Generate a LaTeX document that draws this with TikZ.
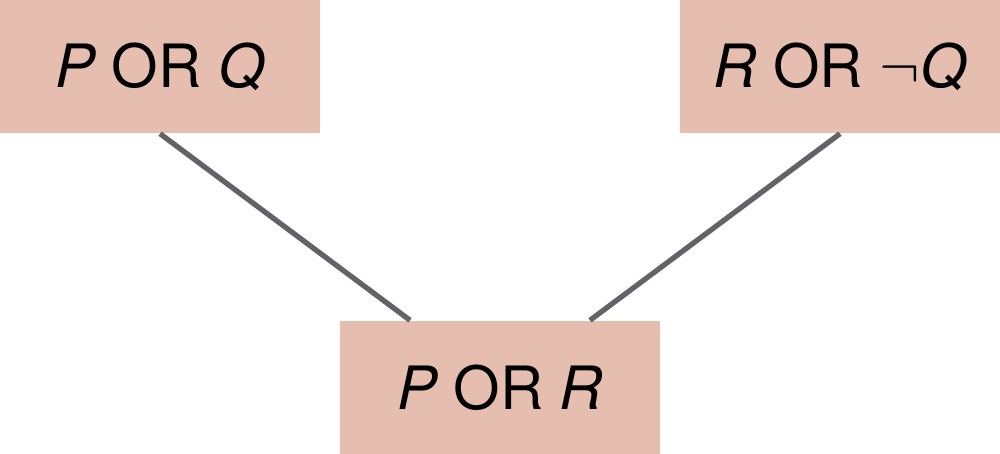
\documentclass[tikz,border=0pt]{standalone}
\usepackage{fontspec}
\setmainfont{TeX Gyre Heros}
\usetikzlibrary{positioning}
\definecolor{salmon}{RGB}{229,190,176}
\definecolor{slate}{RGB}{98,98,104}
\tikzset{
  clause/.style={fill=#1,minimum width=32mm,minimum height=13.3mm,inner sep=0pt,
    font=\fontsize{17}{20}\selectfont},
  clause/.default=salmon,
  link/.style={draw=slate,line width=1.5pt},
}
\begin{document}
\begin{tikzpicture}
  \useasboundingbox (0,0) rectangle (10,4.54);
  \node[clause] (pq) at (1.6,3.875) {$\mathit{P}$ OR $\mathit{Q}$};
  \node[clause] (rq) at (8.4,3.875) {$\mathit{R}$ OR $\neg\mathit{Q}$};
  \node[clause] (pr) at (5.0,0.665) {$\mathit{P}$ OR $\mathit{R}$};
  \draw[link] (pq.south) -- (pr);
  \draw[link] (rq.south) -- (pr);
\end{tikzpicture}
\end{document}
